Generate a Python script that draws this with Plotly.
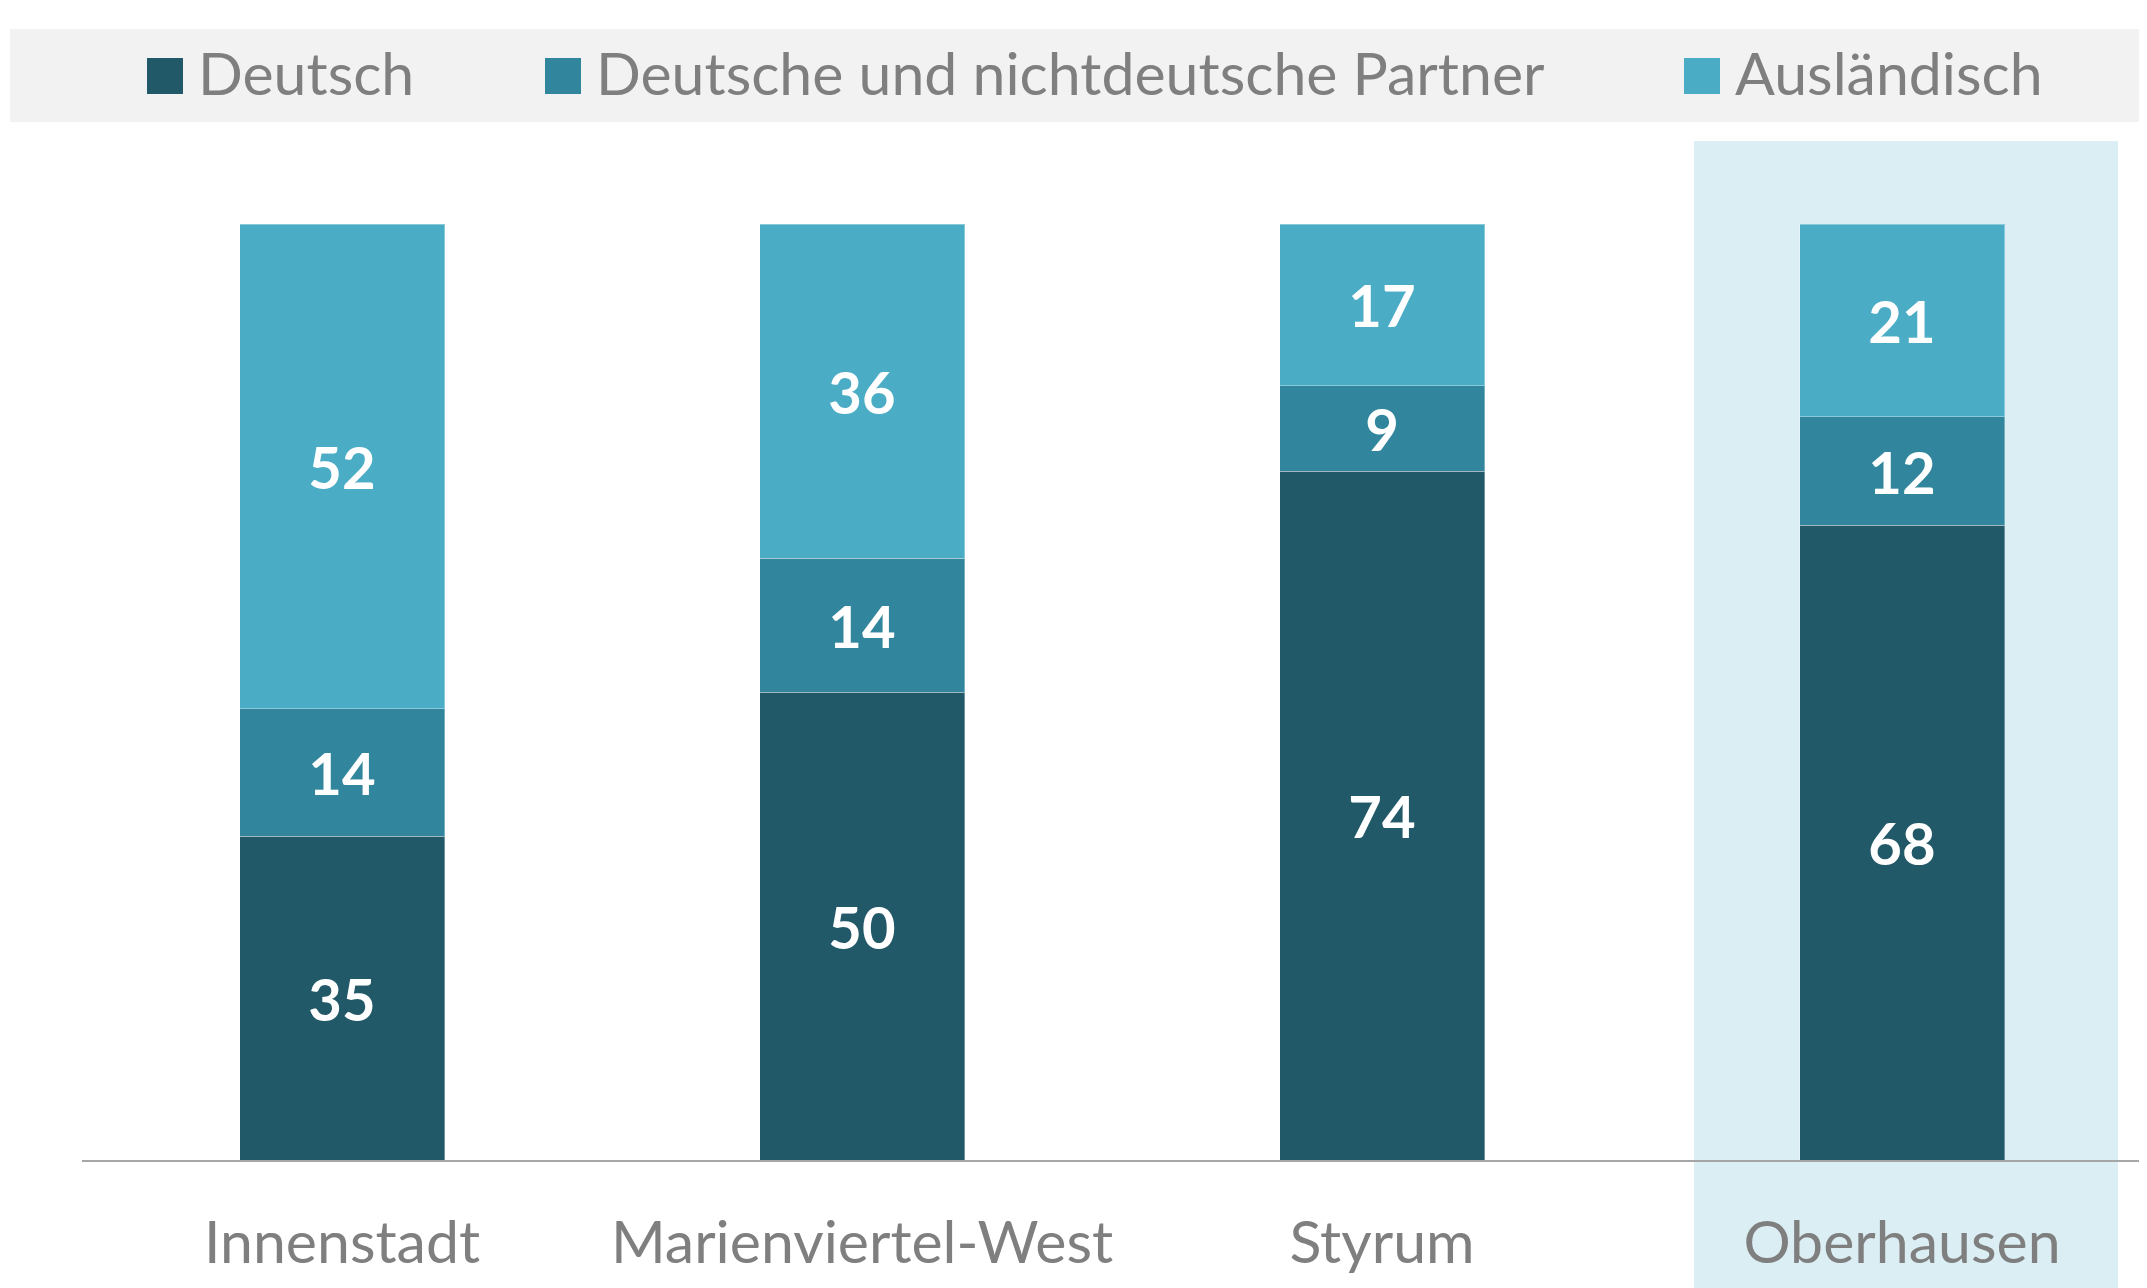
import plotly.graph_objects as go

categories = ["Innenstadt", "Marienviertel-West", "Styrum", "Oberhausen"]
series_names = ["Deutsch", "Deutsche und nichtdeutsche Partner", "Ausländisch"]
# shares in percent (printed labels are these values rounded)
deutsch = [34.6, 50.0, 73.6, 67.8]
partner = [13.6, 14.3, 9.1, 11.6]
auslaendisch = [51.8, 35.7, 17.3, 20.6]
colors = ["#215968", "#31859C", "#4BACC6"]

# page body has an 8px margin; work in screenshot pixels and shift by OFF
OFF = 8
SW, SH = 2147, 1288
W, H = SW - OFF, SH - OFF
AX_LEFT, AX_Y, PLOT_TOP = 82, 1160, 224   # screenshot pixels
ML = AX_LEFT - OFF
MT = PLOT_TOP - OFF
MB = H - (AX_Y - OFF)
MR = 0
CAT_PX = 520.0
plot_w = W - ML - MR
plot_h = H - MT - MB


def py(ys):
    """screenshot y pixel -> paper y fraction"""
    return (AX_Y - ys) / plot_h


def px(xs):
    """screenshot x pixel -> paper x fraction"""
    return (xs - AX_LEFT) / plot_w


FONT = "Lato, Carlito, Calibri, sans-serif"
GREY = "#7F7F7F"

fig = go.Figure()
for name, vals, col in zip(series_names, [deutsch, partner, auslaendisch], colors):
    fig.add_trace(go.Bar(
        x=categories, y=vals, name=name,
        marker=dict(color=col, line=dict(color="rgba(255,255,255,0.35)", width=1)),
        width=205 / CAT_PX,
        texttemplate="%{y:.0f}",
        textposition="inside",
        insidetextanchor="middle",
        textangle=0,
        textfont=dict(family=FONT, size=58, color="white", weight="bold"),
        showlegend=False,
    ))

shapes = []
# legend background
shapes.append(dict(type="rect", xref="paper", yref="paper",
                   x0=px(10), x1=px(SW + 20),
                   y0=py(122), y1=py(29),
                   fillcolor="#F2F2F2", line=dict(width=0), layer="below"))
# highlight box for Oberhausen
shapes.append(dict(type="rect", xref="x", yref="paper",
                   x0=3 - 208 / CAT_PX, x1=3 + 216 / CAT_PX,
                   y0=py(SH + 20), y1=py(141),
                   fillcolor="#DAEEF3", line=dict(width=0), layer="below"))

annotations = []
legend_marker_x = [147, 545, 1684]
for name, col, mx in zip(series_names, colors, legend_marker_x):
    shapes.append(dict(type="rect", xref="paper", yref="paper",
                       x0=px(mx), x1=px(mx + 36),
                       y0=py(94), y1=py(58),
                       fillcolor=col, line=dict(width=0)))
    annotations.append(dict(text=name, xref="paper", yref="paper",
                            x=px(mx + 49), y=py(73),
                            xanchor="left", yanchor="middle", showarrow=False,
                            font=dict(family=FONT, size=59, color=GREY)))

fig.update_layout(
    width=W, height=H,
    margin=dict(l=ML, r=MR, t=MT, b=MB, autoexpand=False),
    barmode="stack", barnorm="percent",
    paper_bgcolor="white", plot_bgcolor="rgba(0,0,0,0)",
    showlegend=False,
    xaxis=dict(range=[-0.5, -0.5 + plot_w / CAT_PX], showline=True,
               linecolor="#A6A6A6", linewidth=2, ticks="", showgrid=False,
               tickfont=dict(family=FONT, size=59, color=GREY),
               ticklabelstandoff=30, zeroline=False),
    yaxis=dict(range=[0, 100], visible=False, showgrid=False, zeroline=False),
    shapes=shapes,
    annotations=annotations,
)

fig.write_html("out.html")
